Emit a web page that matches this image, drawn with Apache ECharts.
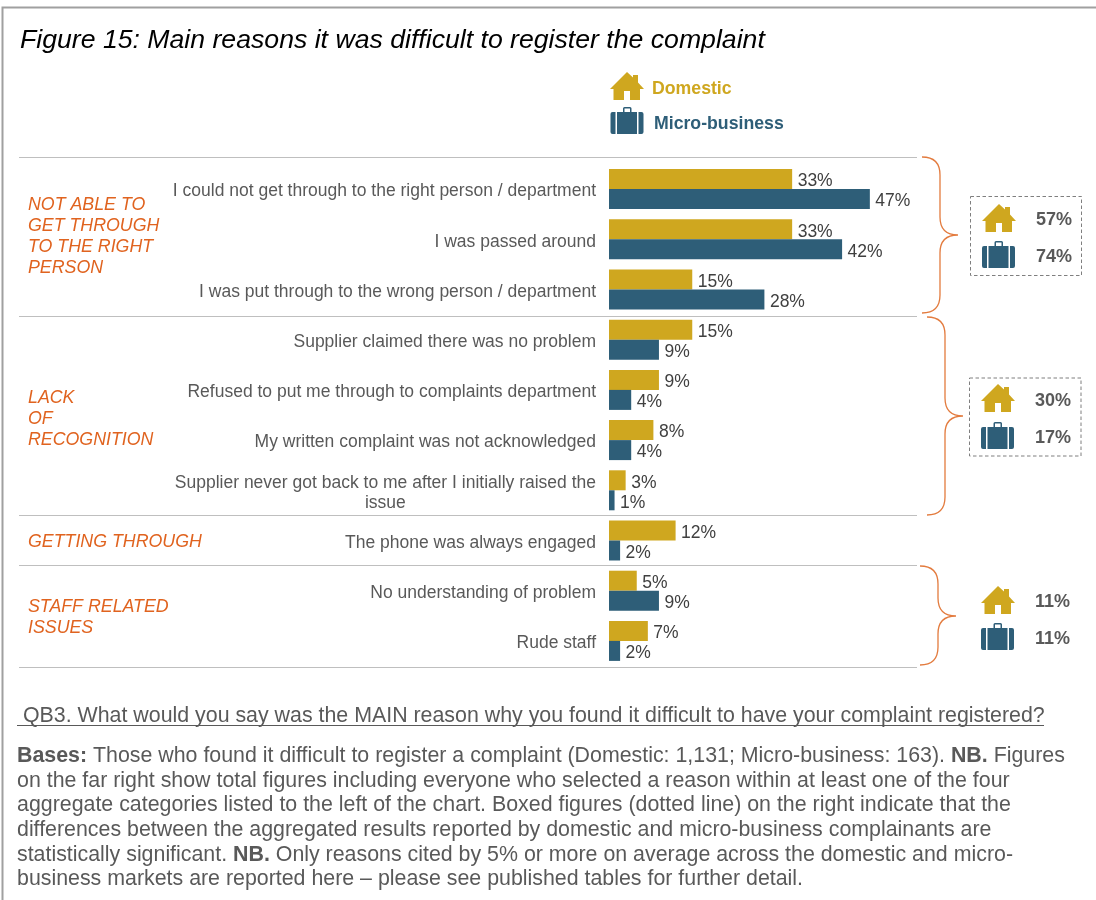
<!DOCTYPE html>
<html>
<head>
<meta charset="utf-8">
<script src="https://cdn.jsdelivr.net/npm/echarts@6/dist/echarts.min.js"></script>
<style>html,body{margin:0;padding:0;background:#fff}#c{width:1096px;height:900px}</style>
</head>
<body>
<div id="c"></div>
<script>
// Survey results: reasons for difficulty registering a complaint
const reasons = [
  'I could not get through to the right person / department',
  'I was passed around',
  'I was put through to the wrong person / department',
  'Supplier claimed there was no problem',
  'Refused to put me through to complaints department',
  'My written complaint was not acknowledged',
  'Supplier never got back to me after I initially raised the\nissue',
  'The phone was always engaged',
  'No understanding of problem',
  'Rude staff'
];
const domestic = [33, 33, 15, 15, 9, 8, 3, 12, 5, 7];
const microBusiness = [47, 42, 28, 9, 4, 4, 1, 2, 9, 2];

const groupNames = [
  'NOT ABLE TO\nGET THROUGH\nTO THE RIGHT\nPERSON',
  'LACK\nOF\nRECOGNITION',
  'GETTING THROUGH',
  'STAFF RELATED\nISSUES'
];
const aggregateDomestic = ['57%', '30%', '11%'];
const aggregateMicro = ['74%', '17%', '11%'];

const GOLD = '#CFA71F', BLUE = '#2E5E78', ORANGE = '#E0631F', GREY = '#595959';
const HOUSE = 'M17 0L23 5.5L23 3L28 3L28 10.5L34 17L30 17L30 28L20 28L20 19L14 19L14 28L3.5 28L3.5 17L0 17Z';
const CASE = 'M5 5L5 27L2 27Q0 27 0 25L0 7Q0 5 2 5Z' +
  'M6.5 5L12.5 5L12.5 1.5Q12.5 0 14 0L19.5 0Q21 0 21 1.5L21 5L26.5 5L26.5 27L6.5 27Z' +
  'M14 1.5L14 5L19.5 5L19.5 1.5Z' +
  'M28 5L31 5Q33 5 33 7L33 25Q33 27 31 27L28 27Z';
// Empty segment that stretches a legend symbol's box below the icon, so labels sit lower
const LEGEND_BOX = 'M0 34L0 34';

// Path strings become named shapes the graphic component can create
function shapeFromPath(name, d) {
  echarts.graphic.registerShape(name, echarts.graphic.extendPath(d, {}));
  return name;
}
shapeFromPath('houseIcon', HOUSE);
shapeFromPath('caseIcon', CASE);

const font = 'Liberation Sans';
const graphics = [];

// Frame along the top and left edges
graphics.push({type: 'polyline', silent: true, shape: {points: [[2.5, 900], [2.5, 7.5], [1096, 7.5]]},
  style: {stroke: '#a0a0a0', lineWidth: 2, fill: 'none'}});

// Separators between the reason groups
[157, 316, 515, 565, 667].forEach(y => graphics.push({type: 'line', silent: true,
  shape: {x1: 19, y1: y + 0.5, x2: 917, y2: y + 0.5}, style: {stroke: '#bfbfbf', lineWidth: 1.2}}));

// Group headings on the left
[[28, 194, 0], [28, 387, 1], [28, 531, 2], [28, 596, 3]].forEach(([x, y, i]) => graphics.push({
  type: 'text', silent: true, x, y,
  style: {text: groupNames[i], fill: ORANGE, font: 'italic 17.8px "' + font + '"', lineHeight: 21.3}
}));

// Curly braces gathering each group
function brace(x, top, tip, bottom) {
  const mid = x + 18, end = x + 36, r = 18;
  return 'M' + x + ' ' + top + 'Q' + mid + ' ' + top + ' ' + mid + ' ' + (top + r) +
    'L' + mid + ' ' + (tip - r) + 'Q' + mid + ' ' + tip + ' ' + end + ' ' + tip +
    'Q' + mid + ' ' + tip + ' ' + mid + ' ' + (tip + r) +
    'L' + mid + ' ' + (bottom - r) + 'Q' + mid + ' ' + bottom + ' ' + x + ' ' + bottom;
}
[[922, 157, 235, 313], [927, 317, 416, 515], [920, 566, 616, 665]].forEach((b, i) => graphics.push({
  type: shapeFromPath('brace' + i, brace(b[0], b[1], b[2], b[3])), silent: true,
  style: {stroke: '#E37B3E', lineWidth: 1.3, fill: 'none'}
}));

// Dotted boxes marking significant differences
[[970.5, 196.5, 111, 79], [969.5, 378, 111.5, 78]].forEach(r => graphics.push({
  type: 'rect', silent: true, shape: {x: r[0], y: r[1], width: r[2], height: r[3]},
  style: {stroke: '#7f7f7f', lineWidth: 1, lineDash: [3.5, 2.5], fill: 'none'}
}));

function icon(type, x, y, fill) {
  return {type, silent: true, x, y, style: {fill}};
}
function bold(text, x, y) {
  return {type: 'text', silent: true, x, y, style: {text, fill: GREY,
    font: 'bold 18px "' + font + '"', verticalAlign: 'middle'}};
}
// Aggregate totals beside each brace
[[982, 204, 241, 220.5, 257.5, 1036], [981, 384, 422, 401.5, 438.5, 1035], [981, 586, 623, 602.5, 639.5, 1035]].forEach((a, i) => {
  graphics.push(icon('houseIcon', a[0], a[1], GOLD));
  graphics.push(icon('caseIcon', a[0], a[2], BLUE));
  graphics.push(bold(aggregateDomestic[i], a[5], a[3]));
  graphics.push(bold(aggregateMicro[i], a[5], a[4]));
});

// Question wording with its underline
graphics.push({type: 'text', silent: true, x: 17, y: 716.5, style: {
  text: ' QB3. What would you say was the MAIN reason why you found it difficult to have your complaint registered?',
  fill: GREY, font: '21.36px "' + font + '"', verticalAlign: 'middle'}});
graphics.push({type: 'line', silent: true, shape: {x1: 17, y1: 725.5, x2: 1044, y2: 725.5},
  style: {stroke: GREY, lineWidth: 1.2}});

// Notes under the chart
const notes = [
  '{b|Bases:} Those who found it difficult to register a complaint (Domestic: 1,131; Micro-business: 163). {b|NB.} Figures',
  'on the far right show total figures including everyone who selected a reason within at least one of the four',
  'aggregate categories listed to the left of the chart. Boxed figures (dotted line) on the right indicate that the',
  'differences between the aggregated results reported by domestic and micro-business complainants are',
  'statistically significant. {b|NB.} Only reasons cited by 5% or more on average across the domestic and micro-',
  'business markets are reported here \u2013 please see published tables for further detail.'
];
graphics.push({type: 'text', silent: true, x: 17, y: 744, style: {
  text: notes.join('\n'), fill: GREY, font: '21.36px "' + font + '"', lineHeight: 24.6,
  rich: {b: {font: 'bold 21.36px "' + font + '"', fill: GREY, lineHeight: 24.6}}
}});

const valueLabel = {
  show: true, position: 'right', distance: 5.5, offset: [0, 2.5], formatter: '{c}%',
  fontFamily: font, fontSize: 17.5, color: '#404040'
};

const option = {
  backgroundColor: '#fff',
  animation: false,
  title: {
    text: 'Figure 15: Main reasons it was difficult to register the complaint',
    left: 20, top: 27, padding: 0,
    textStyle: {fontFamily: font, fontStyle: 'italic', fontWeight: 'normal', fontSize: 26.65, color: '#000'}
  },
  legend: {
    orient: 'vertical', left: 610, top: 72, padding: 0, itemGap: 1,
    itemWidth: 34, itemHeight: 34, selectedMode: false,
    textStyle: {fontFamily: font, fontWeight: 'bold', fontSize: 17.7, padding: [0, 0, 0, 3]},
    data: [
      {name: 'Domestic', icon: 'path://' + HOUSE + LEGEND_BOX, textStyle: {color: GOLD}},
      {name: 'Micro-business', icon: 'path://' + CASE + LEGEND_BOX,
        textStyle: {color: BLUE, padding: [0, 0, 0, 5]}}
    ]
  },
  grid: {left: 609, top: 164, width: 277.5, height: 502, containLabel: false},
  xAxis: {type: 'value', min: 0, max: 50, show: false},
  yAxis: {
    type: 'category', inverse: true, data: reasons,
    axisLine: {show: false}, axisTick: {show: false}, splitLine: {show: false},
    axisLabel: {
      interval: 0, margin: 13, align: 'right', hideOverlap: false, padding: [5, 0, 0, 0],
      formatter: v => '{c|' + v.split('\n').join('}\n{c|') + '}',
      rich: {c: {align: 'center', fontFamily: font, fontSize: 17.5, color: GREY, lineHeight: 20}}
    }
  },
  series: [
    {name: 'Domestic', type: 'bar', data: domestic, barWidth: 20, barGap: 0,
      itemStyle: {color: GOLD}, label: valueLabel},
    {name: 'Micro-business', type: 'bar', data: microBusiness, barWidth: 20,
      itemStyle: {color: BLUE}, label: valueLabel}
  ],
  graphic: {elements: graphics}
};
echarts.init(document.getElementById('c'), null, {renderer: 'canvas'}).setOption(option);
</script>
</body>
</html>
